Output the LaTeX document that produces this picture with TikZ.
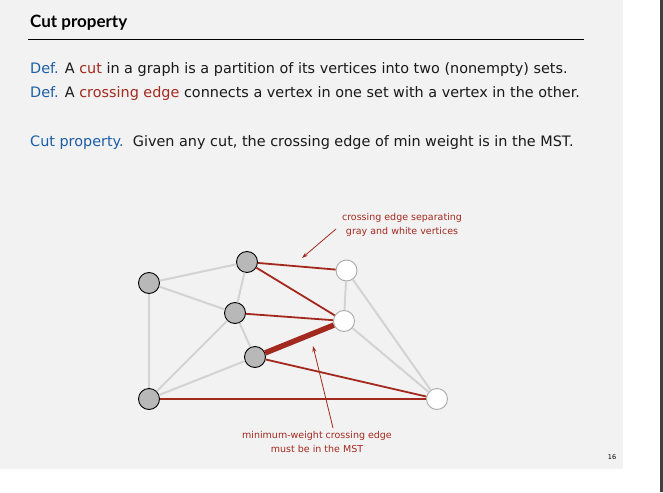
\documentclass[tikz,border=0pt]{standalone}
\usepackage{fontspec}
\setmainfont{DejaVu Sans}
\newfontfamily\titlefont{Lato}
\usetikzlibrary{arrows.meta}
\definecolor{slidebg}{HTML}{F2F2F2}
\definecolor{defblue}{HTML}{1A5EA6}
\definecolor{cutred}{HTML}{A3291F}
\definecolor{edgegray}{HTML}{D3D3D3}
\definecolor{vgray}{HTML}{B8B8B8}
\begin{document}
\begin{tikzpicture}[x=1pt, y=-1pt,
  gv/.style = {draw, circle, fill=vgray, line width=0.9pt, minimum size=21pt, inner sep=0pt},
  wv/.style = {draw=edgegray!80!black, circle, fill=white, line width=0.9pt, minimum size=21pt, inner sep=0pt},
  plain/.style = {draw=edgegray, line width=2pt},
  cross/.style = {draw=cutred, line width=1.8pt},
  note/.style = {text=cutred, font=\fontsize{9.5}{14}\selectfont, align=center},
  pointer/.style = {draw=cutred, line width=0.8pt, -{Stealth[length=6pt, width=4pt]}},
  body/.style = {anchor=base west, inner sep=0pt, text=black!90, font=\fontsize{14.4}{17}\selectfont}]
\useasboundingbox (0,0) rectangle (663,492);
\fill[slidebg] (0,0) rectangle (623,469);
\fill[black!75] (660,0) rectangle (663,492);

% title and text
\node[anchor=base west, inner sep=0pt, font=\titlefont\bfseries\fontsize{17}{20}\selectfont] (title) at (30,28) {Cut property};
\draw[line width=1pt] (28,39.5) -- (584,39.5);
\node[body] (def1) at (30,74) {\textcolor{defblue}{Def.} A \textcolor{cutred}{cut} in a graph is a partition of its vertices into two (nonempty) sets.};
\node[body] (def2) at (30,97.5) {\textcolor{defblue}{Def.} A \textcolor{cutred}{crossing edge} connects a vertex in one set with a vertex in the other.};
\node[body] (prop) at (30,146.5) {\textcolor{defblue}{Cut property.}\ \ Given any cut, the crossing edge of min weight is in the MST.};

% vertices
\node[gv] (g1) at (149,283) {};
\node[gv] (g2) at (247,262) {};
\node[gv] (g3) at (235,313) {};
\node[gv] (g4) at (255,357) {};
\node[gv] (g5) at (149,399) {};
\node[wv] (w1) at (346.5,270.5) {};
\node[wv] (w2) at (344,321) {};
\node[wv] (w3) at (437,399) {};

% edges
\draw[plain] (g1) -- (g2);
\draw[plain] (g1) -- (g3);
\draw[plain] (g1) -- (g5);
\draw[plain] (g2) -- (g3);
\draw[plain] (g3) -- (g4);
\draw[plain] (g3) -- (g5);
\draw[plain] (g4) -- (g5);
\draw[plain] (w1) -- (w2);
\draw[plain] (w1) -- (w3);
\draw[plain] (w2) -- (w3);
\draw[cross] (g2) -- (w1);
\draw[cross] (g2) -- (w2);
\draw[cross] (g3) -- (w2);
\draw[cross] (g4) -- (w3);
\draw[cross] (g5) -- (w3);
\draw[cross, line width=5.5pt] (g4) -- (w2);

% notes
\node[note] (sep) at (402,225) {crossing edge separating\\gray and white vertices};
\node[note] (minw) at (317,442) {minimum-weight crossing edge\\must be in the MST};
\coordinate (a1) at (336,229);
\coordinate (p1) at (302,258);
\coordinate (a2) at (333,428);
\coordinate (p2) at (313,346);
\draw[pointer] (a1) -- (p1);
\draw[pointer] (a2) -- (p2);

\node[font=\fontsize{6.5}{8}\selectfont, inner sep=0pt] (page) at (612,457) {16};
\end{tikzpicture}
\end{document}
